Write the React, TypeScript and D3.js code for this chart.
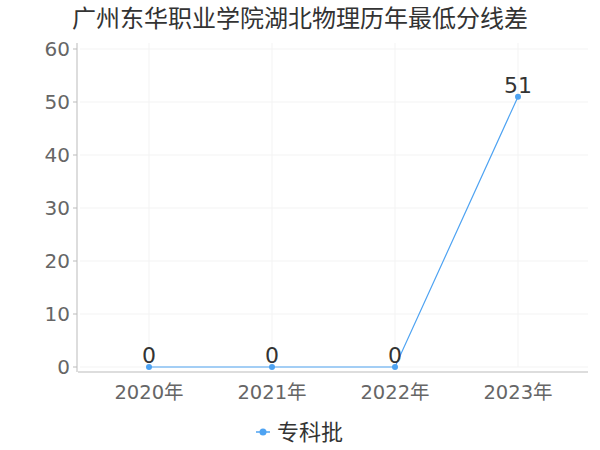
import * as d3 from "d3";

const TITLE = "广州东华职业学院湖北物理历年最低分线差";
const years = ["2020年", "2021年", "2022年", "2023年"];
const values = [0, 0, 0, 51];
const seriesName = "专科批";
const yTicks = [0, 10, 20, 30, 40, 50, 60];

const WIDTH = 600;
const HEIGHT = 450;
const FONT = "'DejaVu Sans', 'Noto Sans CJK SC', sans-serif";
const COLOR = "#4ea3f2";

export default function App() {
  const x = d3.scalePoint<string>().domain(years).range([149, 518]);
  const y = d3.scaleLinear().domain([0, 60]).range([367, 49]);

  const line = d3
    .line<number>()
    .x((_, i) => x(years[i]) ?? 0)
    .y((d) => y(d));

  return (
    <svg
      width={WIDTH}
      height={HEIGHT}
      style={{ position: "absolute", left: 0, top: 0, background: "#fff" }}
      fontFamily={FONT}
    >
      <text x={72} y={19} fontSize={24} fill="#333" dominantBaseline="central">
        {TITLE}
      </text>

      {/* grid */}
      {yTicks.map((t) => (
        <line key={"h" + t} x1={80} x2={588} y1={y(t)} y2={y(t)} stroke="#f3f3f3" />
      ))}
      {years.map((c) => (
        <line key={"v" + c} x1={x(c)} x2={x(c)} y1={43} y2={367} stroke="#f3f3f3" />
      ))}

      {/* y axis */}
      <line x1={77} x2={77} y1={43} y2={372} stroke="#bbb" />
      {yTicks.map((t) => (
        <g key={"yt" + t}>
          <line x1={73} x2={77} y1={y(t)} y2={y(t)} stroke="#bbb" />
          <text
            x={70}
            y={y(t)}
            textAnchor="end"
            dominantBaseline="central"
            fontSize={20}
            fill="#666"
          >
            {t}
          </text>
        </g>
      ))}

      {/* x axis */}
      <line x1={78} x2={588} y1={372} y2={372} stroke="#bbb" />
      {years.map((c) => (
        <text
          key={"xt" + c}
          x={x(c)}
          y={392}
          textAnchor="middle"
          dominantBaseline="central"
          fontSize={19.5}
          fill="#666"
        >
          {c}
        </text>
      ))}

      {/* series */}
      <path d={line(values) ?? ""} fill="none" stroke={COLOR} strokeWidth={1.2} />
      {values.map((v, i) => (
        <g key={"p" + i}>
          <circle cx={x(years[i])} cy={y(v)} r={3} fill={COLOR} />
          <text
            x={x(years[i])}
            y={y(v) - 4}
            textAnchor="middle"
            fontSize={22}
            fill="#333"
          >
            {v}
          </text>
        </g>
      ))}

      {/* legend */}
      <line x1={256} x2={270} y1={432} y2={432} stroke={COLOR} strokeWidth={1.5} />
      <circle cx={263} cy={432} r={3.5} fill={COLOR} />
      <text x={277} y={432} dominantBaseline="central" fontSize={22} fill="#333">
        {seriesName}
      </text>
    </svg>
  );
}
